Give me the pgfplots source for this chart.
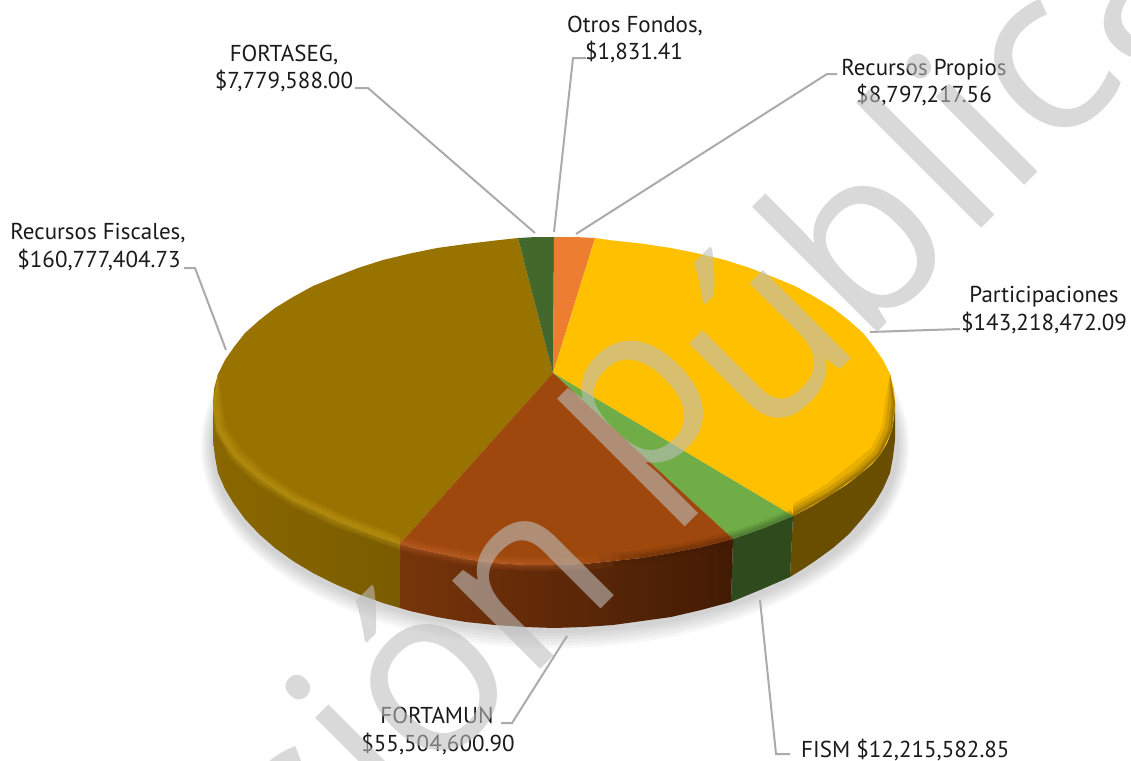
\documentclass[border=0pt]{standalone}
\usepackage{pgfplots}
\pgfplotsset{compat=1.18}
\usepackage{fontspec}
\setmainfont{PT Sans}
\newfontfamily\wm{Open Sans}
\definecolor{cFis}{HTML}{997300}
\definecolor{cBro}{HTML}{9E480E}
\definecolor{cGre}{HTML}{70AD47}
\definecolor{cYel}{HTML}{FFC000}
\definecolor{cOra}{HTML}{ED7D31}
\definecolor{cDgr}{HTML}{43682B}
\definecolor{lead}{HTML}{ABABAB}
\definecolor{txt}{HTML}{1A1A1A}
\definecolor{wmc}{HTML}{BEBEBE}
\definecolor{sYel}{HTML}{6A4E00}
\definecolor{sGre}{HTML}{2F4B1E}
\definecolor{sBroL}{HTML}{78350B}
\definecolor{sBroR}{HTML}{421B04}
\definecolor{sFisL}{HTML}{8A6800}
\definecolor{sFisR}{HTML}{7A5C00}
\definecolor{hFis}{HTML}{C89F18}
\definecolor{hBro}{HTML}{CC6A30}
\tikzset{lab/.style={anchor=base,text=txt,font=\fontsize{23}{25}\selectfont,inner sep=0pt},
 wml/.style={anchor=base,rotate=45,text=wmc,text opacity=.59,inner sep=0pt,font=\wm\fontsize{233}{233}\selectfont},
 leader/.style={draw=lead,line width=2pt,no markers}}
\begin{document}
\begin{tikzpicture}
\path[use as bounding box,clip] (0,0) rectangle (1131pt,760pt);
\begin{axis}[at={(0,0)},anchor=south west,scale only axis,width=1131pt,height=760pt,
 xmin=0,xmax=1131,ymin=0,ymax=760,y dir=reverse,hide axis,clip=false]
% soft shadow
\fill[black,opacity=.03] (axis cs:555,446) ellipse [x radius=354pt,y radius=202pt];
\fill[black,opacity=.03] (axis cs:555,446) ellipse [x radius=352pt,y radius=199pt];
\fill[black,opacity=.03] (axis cs:555,446) ellipse [x radius=350pt,y radius=196pt];
\fill[black,opacity=.03] (axis cs:555,446) ellipse [x radius=348pt,y radius=193pt];
\fill[black,opacity=.03] (axis cs:555,446) ellipse [x radius=346pt,y radius=190pt];
\fill[black,opacity=.03] (axis cs:555,446) ellipse [x radius=344pt,y radius=187pt];
% side faces
\addplot[draw=none,fill=sYel,no markers] coordinates {(895,403)(894,417)(892,430)(887,443)(880,455)(871,465)(860,474)(846,485)(830,495)(812,506)(793,516)(790,577)(803,569)(815,561)(833,548)(849,534)(862,519)(874,504)(883,489)(890,473)(893,457)(895,440)} --cycle;
\addplot[draw=none,fill=sGre,no markers] coordinates {(793,516)(764,528)(733,539)(731,602)(760,590)(790,577)} --cycle;
\addplot[draw=none,left color=sBroL,right color=sBroR,no markers] coordinates {(733,539)(702,547)(671,553)(642,558)(613,561)(584,564)(554,565)(525,565)(495,563)(466,559)(437,553)(418,549)(400,544)(400,608)(410,611)(437,617)(466,622)(495,625)(525,627)(554,628)(584,627)(613,625)(642,621)(671,617)(701,610)(731,602)} --cycle;
\addplot[draw=none,left color=sFisL,right color=sFisR,no markers] coordinates {(400,544)(370,534)(340,522)(316,511)(293,500)(275,489)(259,478)(246,467)(234,455)(225,443)(218,430)(214,417)(213,403)(213,440)(215,457)(218,473)(225,489)(234,504)(245,519)(259,534)(275,548)(293,561)(313,573)(335,584)(358,594)(383,603)(400,608)} --cycle;
% top faces
\addplot[draw=none,fill=cFis,no markers] coordinates {(553,373)(400,544)(370,534)(340,522)(316,511)(293,500)(275,489)(259,478)(246,467)(234,455)(225,443)(218,430)(214,417)(213,403)(214,389)(218,374)(225,360)(234,347)(245,333)(259,320.5)(275,308)(293,297)(313,286)(335,277)(358,268)(383,260)(410,253.5)(437,248)(466,244)(495,240.5)(518,238)} --cycle;
\addplot[draw=none,fill=cDgr,no markers] coordinates {(553,373)(518,238)(536,237)(554,237)} --cycle;
\addplot[draw=none,fill=cOra,no markers] coordinates {(553,373)(554,237)(575,237)(595,238)} --cycle;
\addplot[draw=none,fill=cYel,no markers] coordinates {(553,373)(595,238)(613,240.5)(642,243.6)(671,248)(698,253.5)(725,260)(750,268)(773,277)(795,286)(815,297)(833,308)(849,320.5)(863,333)(874,347)(883,360)(890,374)(894,389)(895,403)(894,417)(892,430)(887,443)(880,455)(871,465)(860,474)(846,485)(830,495)(812,506)(793,516)} --cycle;
\addplot[draw=none,fill=cGre,no markers] coordinates {(553,373)(793,516)(764,528)(733,539)} --cycle;
\addplot[draw=none,fill=cBro,no markers] coordinates {(553,373)(733,539)(702,547)(671,553)(642,558)(613,561)(584,564)(554,565)(525,565)(495,563)(466,559)(437,553)(418,549)(400,544)} --cycle;
% bevel along the rim
\addplot[draw=none,fill=hFis,opacity=.17,no markers] coordinates {(218,374)(213,403)(216,432)(230,458)(255,483)(290,505)(338,528)(400,550)(400,536)(344,515)(298,494)(265,472)(241,449)(226,427)(222,403)} --cycle;
\addplot[draw=none,fill=hFis,opacity=.17,no markers] coordinates {(218,374)(213,403)(215,431)(231,457)(256,481)(291,503)(338,526)(400,548)(400,538)(343,517)(296,495)(263,473)(239,451)(224,428)(220,403)} --cycle;
\addplot[draw=none,fill=hFis,opacity=.17,no markers] coordinates {(218,374)(213,403)(216,431)(232,456)(258,480)(292,502)(339,524)(400,546)(400,540)(342,518)(295,497)(262,475)(237,453)(222,429)(218,403)} --cycle;
\addplot[draw=none,fill=hFis,opacity=.17,no markers] coordinates {(218,374)(213,403)(218,430)(234,455)(259,478)(293,500)(340,522)(400,544)(400,542)(341,520)(294,498)(260,476)(236,454)(220,429)(216,403)} --cycle;
\addplot[draw=hBro,line width=14pt,opacity=.1,no markers] coordinates {(400,543)(418,548)(437,552)(466,558)(495,562)(525,564)(554,564)(584,563)(613,560)};
\addplot[draw=hBro,line width=10pt,opacity=.12,no markers] coordinates {(400,543)(418,548)(437,552)(466,558)(495,562)(525,564)(554,564)(584,563)};
\addplot[draw=hBro,line width=6pt,opacity=.15,no markers] coordinates {(400,543)(418,548)(437,552)(466,558)(495,562)(525,564)(554,564)};
\addplot[draw=hBro,line width=3pt,opacity=.15,no markers] coordinates {(400,543)(418,548)(437,552)(466,558)(495,562)(525,564)};
\addplot[draw=sBroR,line width=14pt,opacity=.1,no markers] coordinates {(600,562)(613,560)(642,557)(671,552)(702,546)(733,538)};
\addplot[draw=sBroR,line width=8pt,opacity=.15,no markers] coordinates {(620,559)(642,557)(671,552)(702,546)(733,538)};
\addplot[draw=sBroR,line width=4pt,opacity=.15,no markers] coordinates {(640,557)(671,552)(702,546)(733,538)};
\addplot[draw=sGre,line width=12pt,opacity=.15,no markers] coordinates {(733,538)(764,527)(793,515)};
\addplot[draw=sGre,line width=8pt,opacity=.15,no markers] coordinates {(733,538)(764,527)(793,515)};
\addplot[draw=sGre,line width=4pt,opacity=.2,no markers] coordinates {(733,538)(764,527)(793,515)};
\addplot[draw=none,fill=sYel,opacity=.15,no markers] coordinates {(890,374)(895,403)(892,430)(880,455)(860,474)(830,495)(793,516)(793,504)(825,485)(852,464)(871,448)(882,426)(885,403)} --cycle;
\addplot[draw=none,fill=sYel,opacity=.2,no markers] coordinates {(890,374)(895,403)(892,430)(880,455)(860,474)(830,495)(793,516)(793,507)(826,489)(855,469)(874,451)(885,428)(888,403)} --cycle;
\addplot[draw=none,fill=sYel,opacity=.22,no markers] coordinates {(890,374)(895,403)(892,430)(880,455)(860,474)(830,495)(793,516)(793,510)(828,492)(857,471)(877,453)(888,429)(891,403)} --cycle;
\addplot[draw=none,fill=sYel,opacity=.3,no markers] coordinates {(890,374)(895,403)(892,430)(880,455)(860,474)(830,495)(793,516)(793,513)(829,493)(859,472)(878,454)(890,429)(893,403)} --cycle;
% leaders
\addplot[leader] coordinates {(554,232)(573,58)(586,58)};
\addplot[leader] coordinates {(576,234)(827,74)(837,74)};
\addplot[leader] coordinates {(535,233)(368,88)(355,88)};
\addplot[leader] coordinates {(226,350)(195,268)(184,268)};
\addplot[leader] coordinates {(870,332)(960,329)};
\addplot[leader] coordinates {(760,600)(776,754)(790,754)};
\addplot[leader] coordinates {(567,636)(512,723)(501,723)};
% labels
\node[lab] at (axis cs:635,32) {Otros Fondos,};
\node[lab] at (axis cs:634,59) {\$1,831.41};
\node[lab] at (axis cs:924,75) {Recursos Propios};
\node[lab] at (axis cs:924,102) {\$8,797,217.56};
\node[lab] at (axis cs:1044,302) {Participaciones};
\node[lab] at (axis cs:1044,330) {\$143,218,472.09};
\node[lab] at (axis cs:284,61) {FORTASEG,};
\node[lab] at (axis cs:284,88) {\$7,779,588.00};
\node[lab] at (axis cs:98,239) {Recursos Fiscales,};
\node[lab] at (axis cs:99,267) {\$160,777,404.73};
\node[lab] at (axis cs:437,723) {FORTAMUN};
\node[lab] at (axis cs:438,751) {\$55,504,600.90};
\node[lab,anchor=base west] at (axis cs:801,757) {FISM\ \$12,215,582.85};
% watermark
\node[wml] at (axis cs:350,860) {s};
\node[wml] at (axis cs:410,800) {i};
\node[wml] at (axis cs:478.5,731.5) {ó};
\node[wml] at (axis cs:577,633) {n};
\node[wml] at (axis cs:681.5,451.5) {p};
\node[wml] at (axis cs:815,395) {ú};
\node[wml] at (axis cs:914,296) {b};
\node[wml] at (axis cs:988.5,221.5) {l};
\node[wml] at (axis cs:1031,179) {i};
\node[wml] at (axis cs:1092,118) {c};
\node[wml] at (axis cs:1177,33) {a};
\end{axis}
\end{tikzpicture}
\end{document}
